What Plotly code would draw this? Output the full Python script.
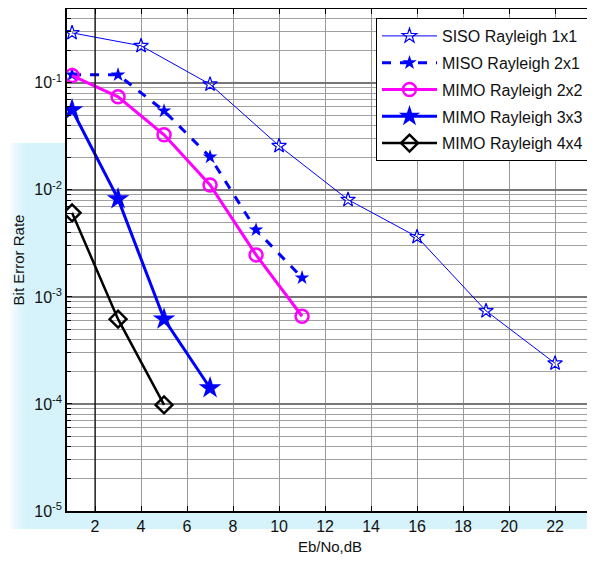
import plotly.graph_objects as go

snr_siso = [1, 4, 7, 10, 13, 16, 19, 22]
ber_siso = [0.293, 0.222, 0.097, 0.0258, 0.0081, 0.00364, 7.4e-4, 2.4e-4]
snr_miso = [1, 3, 5, 7, 9, 11]
ber_miso = [0.119, 0.119, 0.0547, 0.0203, 0.00423, 0.00151]
snr_22 = [1, 3, 5, 7, 9, 11]
ber_22 = [0.117, 0.074, 0.0327, 0.0111, 0.00247, 6.6e-4]
snr_33 = [1, 3, 5, 7]
ber_33 = [0.056, 0.00824, 6.2e-4, 1.41e-4]
snr_44 = [1, 3, 5]
ber_44 = [0.0061, 6.2e-4, 9.8e-5]

xticks = [2, 4, 6, 8, 10, 12, 14, 16, 18, 20, 22]
yticks = [1e-5, 1e-4, 1e-3, 1e-2, 1e-1]
ytick_text = ["10<sup>-5</sup>", "10<sup>-4</sup>", "10<sup>-3</sup>", "10<sup>-2</sup>", "10<sup>-1</sup>"]

fig = go.Figure()
fig.add_trace(go.Scatter(x=snr_siso, y=ber_siso, mode="lines+markers", name="SISO Rayleigh 1x1",
                         legendgroup="a",
                         line=dict(color="#0000ff", width=1),
                         marker=dict(symbol="star-open", size=11, color="#0000ff", line=dict(width=1.2))))
fig.add_trace(go.Scatter(x=snr_miso, y=ber_miso, mode="lines+markers", name="MISO Rayleigh 2x1",
                         legendgroup="b",
                         line=dict(color="#0000ff", width=3, dash="dash"),
                         marker=dict(symbol="star", size=11, color="#0000ff")))
fig.add_trace(go.Scatter(x=snr_22, y=ber_22, mode="lines+markers", name="MIMO Rayleigh 2x2",
                         legendgroup="c",
                         line=dict(color="#ff00ff", width=3),
                         marker=dict(symbol="circle-open", size=13, color="#ff00ff", line=dict(width=2.5))))
fig.add_trace(go.Scatter(x=snr_33, y=ber_33, mode="lines+markers", name="MIMO Rayleigh 3x3",
                         legendgroup="d",
                         line=dict(color="#0000ff", width=3),
                         marker=dict(symbol="star", size=17, color="#0000ff")))
fig.add_trace(go.Scatter(x=snr_44, y=ber_44, mode="lines+markers", name="MIMO Rayleigh 4x4",
                         legendgroup="e",
                         line=dict(color="#000000", width=2.5),
                         marker=dict(symbol="diamond-open", size=13, color="#000000", line=dict(width=2.5))))

# page body has an 8px margin: plot area should land at screen x 67..593, y 9..511
OFF = 8
L, T = 67 - OFF, 9 - OFF
W, H = 526.0, 502.0
R = 595 - L - int(W)
B = 562 - T - int(H)

shapes = []
band = "#d6f3fb"
ytop = (511 - 143) / H
ybot = -18 / H
for i, op in enumerate([0.3, 0.55, 0.75, 0.9]):
    shapes.append(dict(type="rect", xref="paper", yref="paper", layer="below",
                       x0=(-59 + 2 + i * 4) / W, x1=(-59 + 6 + i * 4) / W,
                       y0=ybot, y1=ytop, fillcolor=band, opacity=op, line=dict(width=0)))
shapes.append(dict(type="rect", xref="paper", yref="paper", layer="below",
                   x0=(-59 + 18) / W, x1=0, y0=ybot, y1=ytop,
                   fillcolor=band, line=dict(width=0)))
shapes.append(dict(type="rect", xref="paper", yref="paper", layer="below",
                   x0=0, x1=1 + 3 / W, y0=ybot, y1=0,
                   fillcolor=band, line=dict(width=0)))
shapes.append(dict(type="line", xref="x", yref="paper", x0=2, x1=2, y0=0, y1=1,
                   line=dict(color="black", width=1.2)))

fig.update_layout(
    width=595, height=562,
    margin=dict(l=L, r=R, t=T, b=B, autoexpand=False),
    paper_bgcolor="white", plot_bgcolor="white",
    font=dict(family="Liberation Sans, Arial, sans-serif", color="#111111"),
    shapes=shapes,
    showlegend=True,
    legend=dict(x=(376 - 67) / W, y=1 - (18 - 9) / H, xanchor="left", yanchor="top",
                bgcolor="white", bordercolor="black", borderwidth=1,
                font=dict(size=16, color="#111111"), itemwidth=55,
                tracegroupgap=3),
)
fig.update_xaxes(range=[0.78, 23.65], tickvals=xticks, ticks="inside", ticklen=5,
                 tickcolor="black", showline=True, linecolor="black", linewidth=1.5, mirror="ticks",
                 showgrid=True, gridcolor="#999999", gridwidth=1, automargin=False,
                 tickfont=dict(size=16), title=dict(text="Eb/No,dB", font=dict(size=15), standoff=8),
                 zeroline=False)
fig.update_yaxes(type="log", range=[-5, -0.31], tickvals=yticks, ticktext=ytick_text,
                 ticks="inside", ticklen=5, tickcolor="black", automargin=False,
                 showline=True, linecolor="black", linewidth=1.5, mirror="ticks",
                 showgrid=True, gridcolor="#777777", gridwidth=1.5,
                 minor=dict(ticks="inside", ticklen=4, tickcolor="black", showgrid=True,
                            gridcolor="#a0a0a0", gridwidth=1, dtick="D1"),
                 tickfont=dict(size=16), title=dict(text="Bit Error Rate", font=dict(size=15), standoff=6),
                 zeroline=False)

fig.write_html("out.html")
